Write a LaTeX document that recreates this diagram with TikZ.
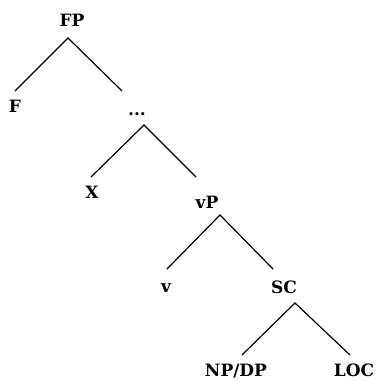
\documentclass[tikz,border=0pt]{standalone}
\usepackage{fontspec}
\setmainfont{DejaVu Serif}
\begin{document}
\begin{tikzpicture}[x=1pt,y=-1pt,
  lbl/.style={anchor=base,inner sep=0pt,font=\fontsize{17}{20}\selectfont\bfseries},
  branch/.style={line width=1.2pt}]
\useasboundingbox (0,0) rectangle (377,381);
% labels
\node[lbl] (FP) at (72,26) {FP};
\node[lbl] (F) at (15,112) {F};
\node[lbl] (dots) at (137,115) {...};
\node[lbl] (X) at (92,198) {X};
\node[lbl] (vP) at (207,208) {vP};
\node[lbl] (v) at (166,292) {v};
\node[lbl] (SC) at (284,293) {SC};
\node[lbl] (NPDP) at (236,376) {NP/DP};
\node[lbl] (LOC) at (354,376) {LOC};
% branch points
\coordinate (FPa) at (68,38);
\coordinate (Fe) at (15,91);
\coordinate (dotse) at (122,91);
\coordinate (dotsa) at (144,125);
\coordinate (Xe) at (91,177);
\coordinate (vPe) at (196,177);
\coordinate (vPa) at (220,215);
\coordinate (ve) at (167,269);
\coordinate (SCe) at (273,269);
\coordinate (SCa) at (295,303);
\coordinate (NPDPe) at (242,355);
\coordinate (LOCe) at (350,355);
% branches
\draw[branch] (Fe) -- (FPa) -- (dotse);
\draw[branch] (Xe) -- (dotsa) -- (vPe);
\draw[branch] (ve) -- (vPa) -- (SCe);
\draw[branch] (NPDPe) -- (SCa) -- (LOCe);
\end{tikzpicture}
\end{document}
